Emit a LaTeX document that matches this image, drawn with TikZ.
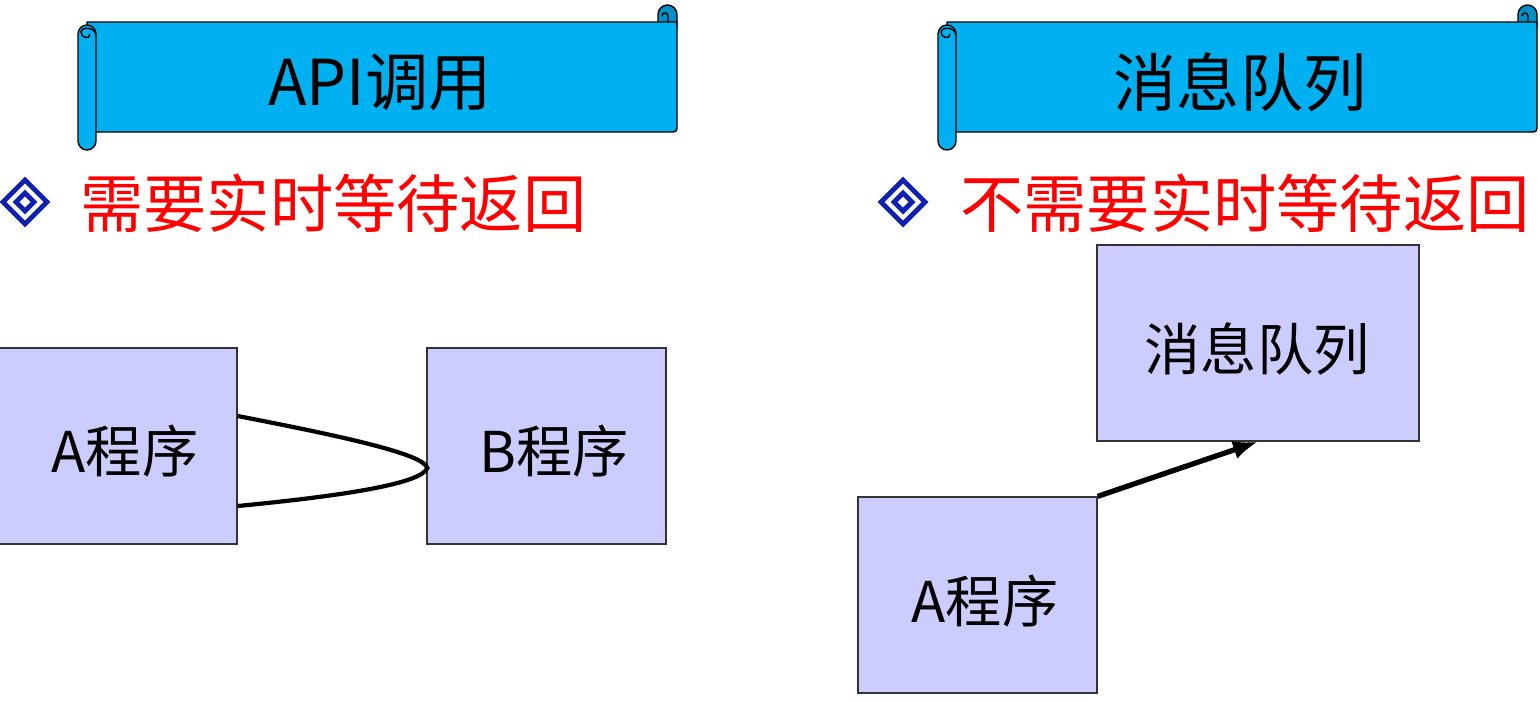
\documentclass[tikz,border=0pt]{standalone}
\usepackage{fontspec}
\setmainfont{Noto Sans CJK SC}
\usetikzlibrary{calc,arrows.meta}
\definecolor{scrollblue}{HTML}{00B0F0}
\definecolor{scrolldark}{HTML}{0090C8}
\definecolor{bulletblue}{HTML}{1020B0}
\definecolor{boxfill}{HTML}{CCCCFF}
\definecolor{boxline}{HTML}{333333}
\tikzset{
  scroll/.pic={
    \draw[fill=scrolldark, line width=0.8pt, rounded corners=0.19cm] (580,5) rectangle (599,36);
    \draw[fill=scrollblue, line width=0.8pt] (9,22) -- (599,22) -- (599,124) .. controls (599,132) .. (591,132) -- (9,132) -- cycle;
    \draw[line width=0.8pt] (590,22) -- (590,16) .. controls (590,12) and (584,12) .. (584,16);
    \draw[fill=scrollblue, line width=0.8pt, rounded corners=0.18cm] (0,25) rectangle (18,150);
    \draw[line width=0.8pt] (18,36) .. controls (18,27) and (4,26) .. (3,32) .. controls (3,38) and (12,40) .. (12,34);
  },
  bannertext/.style={font=\fontsize{36}{40}\selectfont, text=black},
  redtext/.style={font=\fontsize{36}{40}\selectfont, text=red, anchor=west, inner sep=0pt},
  boxnode/.style={draw=boxline, fill=boxfill, line width=0.8pt, minimum height=3.92cm, inner sep=0pt},
  boxtext/.style={font=\fontsize{32}{36}\selectfont},
  bullet/.pic={
    \draw[bulletblue, line width=2.8pt] (0,-22) -- (22,0) -- (0,22) -- (-22,0) -- cycle;
    \draw[bulletblue, line width=2.8pt] (0,-9) -- (9,0) -- (0,9) -- (-9,0) -- cycle;
  },
  link/.style={line width=2.4pt, black},
  arrowlink/.style={line width=3pt, black, -{Latex[length=0.5cm,width=0.38cm]}}
}
\begin{document}
\begin{tikzpicture}[x=0.02cm,y=-0.02cm]
\useasboundingbox (0,0) rectangle (1540,701);
% banners
\pic at (78,0) {scroll};
\node[bannertext] (t1) at (380,82) {API调用};
\pic at (938,0) {scroll};
\node[bannertext] (t2) at (1240,82) {消息队列};
% bullets and red lines
\pic at (25,202) {bullet};
\node[redtext] (r1) at (80,203) {需要实时等待返回};
\pic at (903,202) {bullet};
\node[redtext] (r2) at (960,203) {不需要实时等待返回};
% left diagram
\node[boxnode, minimum width=4.78cm] (a) at (117.5,446) {};
\node[boxtext] (atext) at (125,451) {A程序};
\node[boxnode, minimum width=4.78cm] (b) at (546.5,446) {};
\node[boxtext] (btext) at (554,451) {B程序};
\draw[link] ($(a.east)+(0,-30)$) .. controls ($(a.east)+(103,-10)$) and ($(b.west)+(-2,8)$) .. ($(b.west)+(1,22)$)
  .. controls ($(b.west)+(-5,38)$) and ($(a.east)+(103,50)$) .. ($(a.east)+(0,60)$);
% right diagram
\node[boxnode, minimum width=6.44cm] (mq) at (1258,343) {};
\node[boxtext] (mqtext) at (1257,349) {消息队列};
\node[boxnode, minimum width=4.78cm] (c) at (977.5,595) {};
\node[boxtext] (ctext) at (985,601) {A程序};
\draw[arrowlink] (c.north east) -- (mq.south);
\end{tikzpicture}
\end{document}
